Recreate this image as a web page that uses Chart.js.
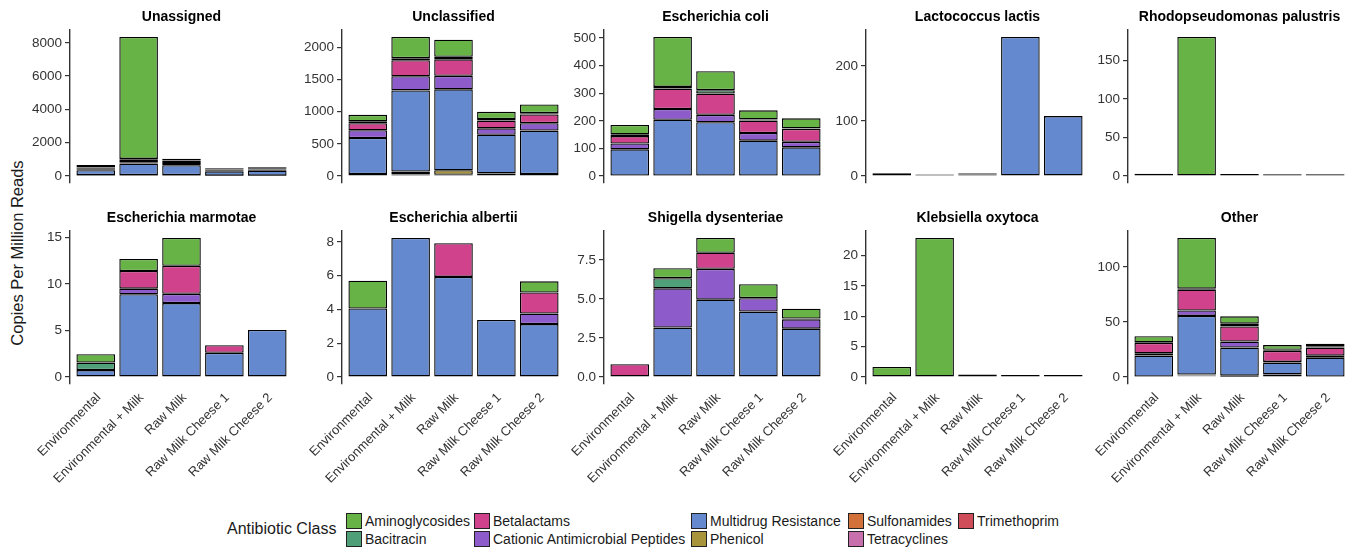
<!DOCTYPE html>
<html>
<head>
<meta charset="utf-8">
<script src="https://cdn.jsdelivr.net/npm/chart.js@4.4.1/dist/chart.umd.min.js"></script>
<style>
  body { margin: 0; background: #fff; width: 1360px; height: 549px; overflow: hidden; position: relative;
         font-family: "Liberation Sans", Arial, sans-serif; }
  canvas { position: absolute; }
  #ytitle { position: absolute; left: 17px; top: 253px; transform: translate(-50%, -50%) rotate(-90deg);
            font-size: 16.5px; white-space: nowrap; color: #1a1a1a; }
  .lg-title { position: absolute; left: 227px; top: 520px; font-size: 16px; color: #1a1a1a; }
  .lg-key { position: absolute; width: 14px; height: 14px; border: 1.3px solid #222; }
  .lg-text { position: absolute; font-size: 14px; line-height: 16px; color: #1a1a1a; white-space: nowrap; }
</style>
</head>
<body>
<div id="ytitle">Copies Per Million Reads</div>
<div id="legend"></div>
<script>
var categories = ["Environmental", "Environmental + Milk", "Raw Milk", "Raw Milk Cheese 1", "Raw Milk Cheese 2"];
var classes = ["Aminoglycosides", "Bacitracin", "Betalactams", "Cationic Antimicrobial Peptides",
  "Multidrug Resistance", "Phenicol", "Sulfonamides", "Tetracyclines", "Trimethoprim"];
var classColors = ["#67b346", "#4f9f78", "#d0428b", "#8e5bcb", "#6489cf", "#a8943a", "#d2713a", "#c86fae", "#cf4d58"];

// rows follow the order of classes, columns follow categories
var unassigned = [
  [150, 7320, 100, 40, 45],
  [40, 50, 40, 30, 35],
  [60, 150, 110, 50, 70],
  [60, 80, 140, 60, 70],
  [300, 700, 600, 260, 300],
  [20, 20, 20, 10, 10],
  [10, 10, 10, 5, 5],
  [10, 10, 10, 5, 5],
  [10, 10, 10, 5, 5]
];
var unclassified = [
  [100, 330, 265, 112, 137],
  [30, 30, 40, 25, 20],
  [110, 250, 255, 120, 135],
  [120, 220, 210, 100, 115],
  [560, 1260, 1257, 600, 675],
  [20, 45, 70, 30, 20],
  [3, 10, 5, 3, 3],
  [3, 5, 5, 3, 3],
  [5, 10, 10, 5, 5]
];
var ecoli = [
  [34, 181, 69, 33, 36],
  [6, 6, 12, 4, 2],
  [27, 74, 77, 45, 47],
  [21, 39, 27, 28, 20],
  [95, 202, 193, 126, 102],
  [1, 1, 1, 1, 1],
  [0, 0, 0, 0, 0],
  [0, 0, 0, 0, 0],
  [1, 1, 1, 1, 1]
];
var lactis = [
  [0, 0, 0, 0, 0],
  [0, 0, 0, 0, 0],
  [1.5, 0, 1, 0, 0],
  [0, 0, 1.5, 0, 0],
  [3.5, 3, 3, 253, 109],
  [0, 0, 0, 0, 0],
  [0, 0, 0, 0, 0],
  [0, 0, 0, 0, 0],
  [0, 0, 0, 0, 0]
];
var palustris = [
  [3, 180.5, 2.8, 2.2, 2.2],
  [0, 0, 0, 0, 0],
  [0, 0, 0, 0, 0],
  [0, 0, 0, 0, 0],
  [0, 0, 0, 0, 0],
  [0, 0, 0, 0, 0],
  [0, 0, 0, 0, 0],
  [0, 0, 0, 0, 0],
  [0, 0, 0, 0, 0]
];
var marmotae = [
  [0.9, 1.3, 3.0, 0, 0],
  [0.8, 0, 0, 0, 0],
  [0, 1.9, 3.0, 0.83, 0],
  [0, 0.6, 1.0, 0, 0],
  [0.75, 8.9, 7.95, 2.6, 5.06],
  [0, 0, 0, 0, 0],
  [0, 0, 0, 0, 0],
  [0, 0, 0, 0, 0],
  [0, 0, 0, 0, 0]
];
var albertii = [
  [1.65, 0, 0, 0, 0.66],
  [0, 0, 0, 0, 0],
  [0, 0, 2.0, 0, 1.25],
  [0, 0, 0, 0, 0.62],
  [4.06, 8.24, 5.93, 3.38, 3.14],
  [0, 0, 0, 0, 0],
  [0, 0, 0, 0, 0],
  [0, 0, 0, 0, 0],
  [0, 0, 0, 0, 0]
];
var dysenteriae = [
  [0, 0.64, 0.95, 0.89, 0.63],
  [0, 0.65, 0, 0, 0],
  [0.82, 0, 1.03, 0, 0.05],
  [0, 2.52, 1.98, 0.86, 0.6],
  [0, 3.17, 4.96, 4.2, 3.1],
  [0, 0, 0, 0, 0],
  [0, 0, 0, 0, 0],
  [0, 0, 0, 0, 0],
  [0, 0, 0, 0, 0]
];
var oxytoca = [
  [1.66, 22.87, 0.4, 0.35, 0.35],
  [0, 0, 0, 0, 0],
  [0, 0, 0, 0, 0],
  [0, 0, 0, 0, 0],
  [0, 0, 0, 0, 0],
  [0, 0, 0, 0, 0],
  [0, 0, 0, 0, 0],
  [0, 0, 0, 0, 0],
  [0, 0, 0, 0, 0]
];
var other = [
  [5.5, 46, 6.7, 4.3, 2.5],
  [0.5, 0.9, 2.5, 0.9, 0.9],
  [9.5, 18.9, 13.7, 10.1, 7.3],
  [2, 4.9, 5.5, 0.6, 1.8],
  [19, 53.3, 25.5, 10.7, 17.2],
  [0.3, 0.5, 1, 1.5, 0.2],
  [0, 0.5, 0, 0.4, 0],
  [0, 0.5, 0, 0, 0],
  [0.2, 0.7, 0.2, 0.5, 0.2]
];

var panelNames = ["Unassigned", "Unclassified", "Escherichia coli", "Lactococcus lactis", "Rhodopseudomonas palustris",
  "Escherichia marmotae", "Escherichia albertii", "Shigella dysenteriae", "Klebsiella oxytoca", "Other"];
var panelData = [unassigned, unclassified, ecoli, lactis, palustris, marmotae, albertii, dysenteriae, oxytoca, other];
var panelTicks = [
  [0, 2000, 4000, 6000, 8000],
  [0, 500, 1000, 1500, 2000],
  [0, 100, 200, 300, 400, 500],
  [0, 100, 200],
  [0, 50, 100, 150],
  [0, 5, 10, 15],
  [0, 2, 4, 6, 8],
  [0, 2.5, 5, 7.5],
  [0, 5, 10, 15, 20],
  [0, 50, 100]
];

var AXIS_W = 50, PLOT_W = 223, TOP_H = 30, PLOT_H = 153, LABEL_H = 110;
var axisX = [70, 342, 604, 866, 1128];
var rowTop = [30, 231];
var FONT = "'Liberation Sans', Arial, sans-serif";

function makePanel(i) {
  var row = i < 5 ? 0 : 1, col = i % 5;
  var values = panelData[i];
  var ticks = panelTicks[i];
  var canvas = document.createElement("canvas");
  canvas.width = AXIS_W + PLOT_W + 2;
  canvas.height = TOP_H + PLOT_H + (row ? LABEL_H : 1);
  canvas.style.left = (axisX[col] - AXIS_W) + "px";
  canvas.style.top = (rowTop[row] - TOP_H) + "px";
  document.body.appendChild(canvas);

  var totals = categories.map(function (c, k) {
    return values.reduce(function (s, r) { return s + r[k]; }, 0);
  });
  var top = Math.max.apply(null, totals);
  var decimals = ticks.some(function (t) { return t % 1 !== 0; }) ? 1 : 0;

  // ggplot stacks the first level on top, so the last class goes first here
  var datasets = [];
  for (var c = classes.length - 1; c >= 0; c--) {
    datasets.push({
      label: classes[c],
      data: values[c].map(function (v, k) { return { x: k + 1, y: v }; }),
      backgroundColor: classColors[c],
      borderColor: "#000",
      borderWidth: 1.35,
      borderSkipped: false,
      inflateAmount: 0,
      barPercentage: 0.9,
      categoryPercentage: 1.0,
    });
  }

  new Chart(canvas.getContext("2d"), {
    type: "bar",
    data: { datasets: datasets },
    options: {
      responsive: false,
      animation: false,
      layout: { padding: { left: 0, right: 2, top: 0, bottom: 0 } },
      scales: {
        x: {
          type: "linear",
          stacked: true,
          offset: false,
          min: 0.4,
          max: 5.6,
          afterBuildTicks: function (s) {
            s.ticks = categories.map(function (c, k) { return { value: k + 1 }; });
          },
          afterFit: function (s) {
            s.height = row ? LABEL_H : 1;
            s.paddingLeft = 0;
            s.paddingRight = 0;
          },
          grid: { display: false, drawTicks: false, offset: false },
          border: { display: false },
          ticks: {
            display: row === 1,
            autoSkip: false,
            minRotation: 45,
            maxRotation: 45,
            padding: 6,
            labelOffset: 3,
            color: "#333",
            font: { size: 13, family: FONT },
            callback: function (v) { return categories[v - 1]; },
          },
        },
        y: {
          stacked: true,
          min: -0.05 * top,
          max: 1.05 * top,
          afterBuildTicks: function (s) {
            s.ticks = ticks.map(function (t) { return { value: t }; });
          },
          afterFit: function (s) {
            s.width = AXIS_W;
            s.paddingTop = 0;
            s.paddingBottom = 0;
          },
          grid: { display: true, drawOnChartArea: false, drawTicks: true, tickLength: 5, color: "#333", lineWidth: 1.2 },
          border: { display: true, color: "#333", width: 1.4 },
          ticks: {
            padding: 3,
            color: "#333",
            font: { size: 13.5, family: FONT },
            callback: function (v) { return Number(v).toFixed(decimals); },
          },
        },
      },
      plugins: {
        legend: { display: false },
        tooltip: { enabled: false },
        title: {
          display: true,
          fullSize: false,
          text: panelNames[i],
          color: "#000",
          font: { size: 14, weight: "bold", family: FONT },
          padding: { top: 9, bottom: 4.2 },
        },
      },
    },
  });
}

for (var p = 0; p < panelNames.length; p++) makePanel(p);

// legend, laid out in two rows like the ggplot guide
var legendCols = [346, 474, 691, 848, 958];
var legendRows = [513, 531];
var legend = document.getElementById("legend");
var t = document.createElement("div");
t.className = "lg-title";
t.textContent = "Antibiotic Class";
legend.appendChild(t);
classes.forEach(function (name, k) {
  var col = Math.floor(k / 2), r = k % 2;
  var key = document.createElement("div");
  key.className = "lg-key";
  key.style.left = legendCols[col] + "px";
  key.style.top = legendRows[r] + "px";
  key.style.background = classColors[k];
  legend.appendChild(key);
  var txt = document.createElement("div");
  txt.className = "lg-text";
  txt.style.left = (legendCols[col] + 19) + "px";
  txt.style.top = legendRows[r] + "px";
  txt.textContent = name;
  legend.appendChild(txt);
});
</script>
</body>
</html>
